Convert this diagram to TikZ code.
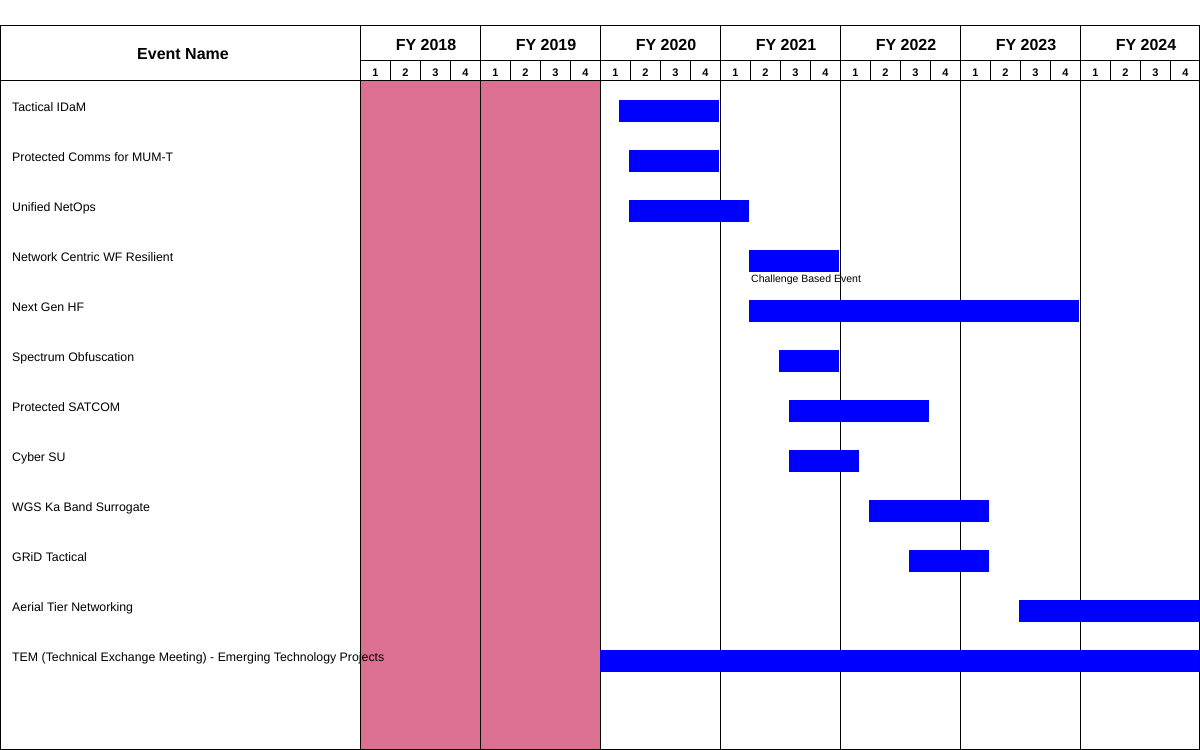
\documentclass[tikz,border=0pt]{standalone}
\usepackage{fontspec}
\setmainfont{Liberation Sans}
\definecolor{pinkfill}{RGB}{220,112,145}
\definecolor{barblue}{RGB}{0,0,255}
\begin{document}
\begin{tikzpicture}[x=1pt,y=-1pt,
  grid/.style={line width=1pt,black},
  bar/.style={fill=barblue,draw=none,anchor=north west,inner sep=0pt,minimum height=22pt},
  lbl/.style={anchor=base west,inner sep=0pt,font=\fontsize{12.33}{14}\selectfont},
  fy/.style={anchor=base,inner sep=0pt,font=\bfseries\fontsize{16}{18}\selectfont},
  qn/.style={anchor=base,inner sep=0pt,font=\bfseries\fontsize{11}{13}\selectfont},
  note/.style={anchor=base west,inner sep=0pt,font=\fontsize{10.5}{12}\selectfont}]
\useasboundingbox (0,0) rectangle (1200,750);
% pink shading FY2018-2019
\fill[pinkfill] (360,80) rectangle (600,749);
% outer frame
\draw[grid] (0.5,25.5) rectangle (1199.5,749.5);
% header lines
\draw[grid] (0,80.5) -- (1200,80.5);
\draw[grid] (360,60.5) -- (1200,60.5);
\foreach \x in {360,480,600,720,840,960,1080} \draw[grid] (\x+0.5,25) -- (\x+0.5,749);
\foreach \q in {0,...,27} {
  \pgfmathtruncatemacro{\xx}{390+30*\q}
  \ifnum\xx<1200 \draw[grid] (\xx+0.5,60) -- (\xx+0.5,80); \fi
}
% header texts
\node[fy] (hdr) at (183,59.5) {Event Name};
\foreach \y [count=\k from 0] in {2018,2019,2020,2021,2022,2023,2024} {
  \node[fy] (fy\y) at (426+120*\k,50.5) {FY \y};
  \foreach \n [count=\m from 0] in {1,2,3,4}
    \node[qn] (q\y-\n) at (375.5+120*\k+30*\m,76.5) {\n};
}
% event labels
\node[lbl] (l0) at (12,111.5) {Tactical IDaM};
\node[lbl] (l1) at (12,161.5) {Protected Comms for MUM-T};
\node[lbl] (l2) at (12,211.5) {Unified NetOps};
\node[lbl] (l3) at (12,261.5) {Network Centric WF Resilient};
\node[lbl] (l4) at (12,311.5) {Next Gen HF};
\node[lbl] (l5) at (12,361.5) {Spectrum Obfuscation};
\node[lbl] (l6) at (12,411.5) {Protected SATCOM};
\node[lbl] (l7) at (12,461.5) {Cyber SU};
\node[lbl] (l8) at (12,511.5) {WGS Ka Band Surrogate};
\node[lbl] (l9) at (12,561.5) {GRiD Tactical};
\node[lbl] (l10) at (12,611.5) {Aerial Tier Networking};
% bars
\node[bar,minimum width=100pt] (b0) at (619,100) {};
\node[bar,minimum width=90pt] (b1) at (629,150) {};
\node[bar,minimum width=120pt] (b2) at (629,200) {};
\node[bar,minimum width=90pt] (b3) at (749,250) {};
\node[bar,minimum width=330pt] (b4) at (749,300) {};
\node[bar,minimum width=60pt] (b5) at (779,350) {};
\node[bar,minimum width=140pt] (b6) at (789,400) {};
\node[bar,minimum width=70pt] (b7) at (789,450) {};
\node[bar,minimum width=120pt] (b8) at (869,500) {};
\node[bar,minimum width=80pt] (b9) at (909,550) {};
\node[bar,minimum width=180pt] (b10) at (1019,600) {};
\node[bar,minimum width=599pt] (b11) at (600,650) {};
\node[note] (cbe) at (751,282) {Challenge Based Event};
\node[lbl] (l11) at (12,661.5) {TEM (Technical Exchange Meeting) - Emerging Technology Projects};
\end{tikzpicture}
\end{document}
